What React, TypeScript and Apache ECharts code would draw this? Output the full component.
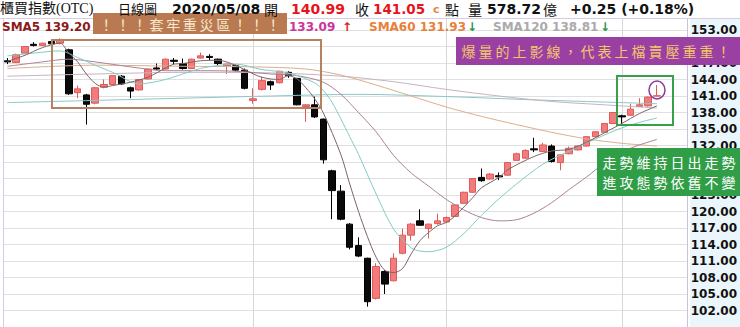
import React, { useEffect, useRef } from 'react';
import * as echarts from 'echarts';

// Trading days shown on the daily chart (OTC index, 2020)
const tradingDays = [
  '2020-01-10', '2020-01-13', '2020-01-14', '2020-01-15', '2020-01-16', '2020-01-17', '2020-01-20',
  '2020-01-30', '2020-01-31',
  '2020-02-03', '2020-02-04', '2020-02-05', '2020-02-06', '2020-02-07', '2020-02-10', '2020-02-11',
  '2020-02-12', '2020-02-13', '2020-02-14', '2020-02-17', '2020-02-18', '2020-02-19', '2020-02-20',
  '2020-02-21', '2020-02-24', '2020-02-25', '2020-02-26', '2020-02-27',
  '2020-03-02', '2020-03-03', '2020-03-04', '2020-03-05', '2020-03-06', '2020-03-09', '2020-03-10',
  '2020-03-11', '2020-03-12', '2020-03-13', '2020-03-16', '2020-03-17', '2020-03-18', '2020-03-19',
  '2020-03-20', '2020-03-23', '2020-03-24', '2020-03-25', '2020-03-26', '2020-03-27', '2020-03-30',
  '2020-03-31',
  '2020-04-01', '2020-04-06', '2020-04-07', '2020-04-08', '2020-04-09', '2020-04-10', '2020-04-13',
  '2020-04-14', '2020-04-15', '2020-04-16', '2020-04-17', '2020-04-20', '2020-04-21', '2020-04-22',
  '2020-04-23', '2020-04-24', '2020-04-27', '2020-04-28', '2020-04-29', '2020-04-30',
  '2020-05-04', '2020-05-05', '2020-05-06', '2020-05-07', '2020-05-08',
];
// empty slots kept on the right of the last session
const padSlots = ['', '', ''];

// [open, close, low, high]
const ohlc: [number, number, number, number][] = [
  [147.4, 147.2, 146.8, 147.9], [147.1, 148.5, 147.0, 148.7], [148.8, 150.0, 148.7, 150.1],
  [150.4, 150.2, 150.0, 150.8], [150.2, 150.6, 150.1, 150.7], [150.9, 150.5, 150.3, 151.2],
  [150.6, 151.2, 150.4, 151.5],
  [149.4, 141.4, 141.2, 149.6], [141.6, 142.3, 140.6, 142.9],
  [141.2, 139.5, 135.8, 141.4], [139.7, 142.5, 139.5, 142.6], [142.6, 143.1, 142.4, 144.0],
  [143.1, 144.7, 143.0, 144.8], [144.6, 143.2, 143.0, 144.8], [142.5, 141.9, 140.6, 142.7],
  [142.1, 144.0, 142.0, 144.1], [144.1, 145.9, 144.0, 146.0], [146.1, 145.9, 145.7, 146.9],
  [145.9, 147.7, 145.8, 147.8], [147.5, 147.3, 146.8, 147.9], [146.9, 146.0, 145.8, 147.8],
  [146.0, 147.7, 145.9, 147.8], [147.9, 148.3, 147.8, 148.9], [148.2, 148.0, 147.5, 148.6],
  [147.7, 146.9, 146.6, 147.8], [146.5, 146.8, 145.0, 146.9], [146.5, 145.7, 145.5, 146.7],
  [145.7, 142.4, 142.2, 146.0],
  [140.2, 140.5, 139.6, 142.4], [142.2, 143.8, 142.0, 144.5], [143.6, 143.0, 142.1, 143.8],
  [143.4, 145.5, 143.3, 145.6], [145.3, 144.7, 144.3, 145.5], [144.2, 139.4, 139.3, 144.3],
  [139.1, 139.4, 136.3, 139.5], [139.4, 137.2, 137.0, 140.9], [136.8, 129.4, 128.7, 136.9],
  [127.4, 123.8, 118.6, 127.6], [123.7, 118.6, 118.4, 124.8], [117.7, 113.5, 113.1, 117.9],
  [113.8, 111.9, 111.7, 115.3], [111.5, 103.6, 102.7, 111.6], [104.2, 110.0, 104.0, 110.6],
  [109.1, 106.8, 105.0, 109.3], [107.4, 111.5, 107.3, 112.4], [112.4, 115.7, 112.2, 116.9],
  [115.7, 117.7, 114.7, 117.9], [118.3, 117.5, 117.4, 120.4], [116.9, 117.7, 115.1, 117.8],
  [117.8, 118.3, 117.6, 119.6],
  [118.1, 118.9, 117.9, 119.1], [119.1, 121.2, 119.0, 121.3], [121.5, 123.5, 121.4, 123.6],
  [123.5, 126.0, 123.4, 126.1], [126.2, 125.6, 125.4, 127.8], [125.9, 126.8, 125.8, 127.0],
  [126.5, 126.3, 125.7, 127.1], [126.6, 128.9, 126.5, 129.0], [129.3, 130.5, 129.2, 130.7],
  [129.7, 131.1, 129.6, 131.3], [131.4, 131.2, 130.8, 133.4], [130.9, 132.1, 130.8, 132.5],
  [131.9, 129.1, 128.9, 132.2], [128.9, 130.3, 127.5, 130.4], [130.5, 131.5, 130.4, 131.8],
  [131.2, 131.9, 131.1, 132.0], [131.9, 133.6, 131.8, 133.7], [133.6, 134.5, 133.5, 134.6],
  [134.4, 136.0, 134.3, 136.1], [136.0, 138.0, 135.9, 138.1],
  [137.4, 137.2, 135.9, 137.6], [137.5, 138.6, 137.4, 139.6], [139.1, 139.4, 139.0, 140.6],
  [139.2, 140.8, 139.1, 140.9], [140.99, 141.05, 140.9, 143.0],
];

// Moving-average curves: [session index, value]
const sma5Points: [number, number][] = [
  [0, 147.3], [2, 148.4], [4, 149.8], [6, 150.6], [7, 148.8], [8, 147.2], [9, 145.0], [10, 143.3],
  [11, 142.6], [12, 142.9], [14, 143.5], [16, 144.4], [17, 145.2], [19, 146.8], [20, 146.9],
  [22, 147.4], [24, 147.5], [26, 146.6], [27, 145.8], [29, 144.4], [31, 144.0], [32, 144.7],
  [33, 144.1], [34, 142.5], [35, 140.5], [36, 137.9], [38, 130.3], [39, 125.0], [40, 120.0],
  [41, 115.5], [42, 111.7], [43, 109.3], [44, 108.9], [45, 109.6], [46, 112.3], [47, 114.7],
  [48, 116.2], [49, 117.4], [50, 118.0], [51, 119.2], [53, 122.5], [54, 124.3], [56, 126.2],
  [57, 127.6], [60, 130.0], [62, 131.0], [64, 131.3], [66, 132.6], [68, 134.3], [70, 136.0],
  [72, 137.8], [74, 139.2],
];
const sma10Points: [number, number][] = [
  [0, 148.3], [3, 148.8], [6, 149.2], [8, 148.0], [10, 146.6], [12, 145.3], [15, 143.2],
  [18, 144.0], [22, 146.0], [26, 146.8], [29, 145.8], [32, 145.2], [35, 143.4], [36, 142.0],
  [37, 139.8], [38, 136.8], [39, 133.6], [40, 130.4], [42, 123.2], [44, 116.8], [46, 113.4],
  [47, 112.8], [48, 112.7], [50, 113.5], [52, 116.0], [54, 119.3], [56, 122.3], [58, 125.0],
  [61, 128.6], [64, 131.0], [67, 133.2], [70, 135.2], [72, 136.2], [74, 137.0],
];
const sma20Points: [number, number][] = [
  [0, 146.4], [4, 147.2], [7, 147.7], [10, 147.2], [14, 146.3], [18, 145.6], [22, 145.6],
  [26, 145.5], [30, 145.0], [33, 144.7], [36, 143.5], [38, 141.3], [40, 138.0], [42, 134.5],
  [44, 130.2], [46, 127.0], [48, 124.6], [50, 122.2], [52, 120.3], [54, 118.9], [56, 118.3],
  [58, 118.5], [60, 119.7], [62, 121.6], [64, 124.0], [66, 126.3], [68, 128.8], [70, 130.8],
  [72, 132.1], [74, 133.1],
];
const sma60Points: [number, number][] = [
  [0, 146.0], [10, 146.6], [20, 146.4], [28, 146.3], [34, 145.9], [38, 144.8], [42, 143.0],
  [46, 141.0], [50, 139.0], [54, 137.3], [58, 135.8], [62, 134.4], [66, 133.2], [70, 132.4],
  [74, 131.9],
];
const sma120Points: [number, number][] = [
  [0, 144.6], [10, 145.0], [20, 145.3], [30, 145.2], [38, 144.6], [44, 143.6], [50, 142.2],
  [56, 141.0], [62, 140.0], [68, 139.4], [74, 138.8],
];
const sma240Points: [number, number][] = [
  [0, 139.8], [15, 140.4], [30, 141.0], [40, 141.3], [50, 140.9], [60, 140.3], [68, 139.9],
  [74, 139.6],
];

// First session of each month, marked with a vertical rule
const monthStarts = ['2020-03-02', '2020-04-01', '2020-05-04'];

// Price labels that sit fully under the note boxes
const hiddenPriceLabels = [150, 129, 126];

// Quote header
const quoteName = '櫃買指數(OTC)';
const chartKind = '日線圖';
const quoteDate = '2020/05/08';
const openText = '140.99';
const closeText = '141.05';
const volumeText = '578.72';
const changeText = '+0.25 (+0.18%)';
const sma5Label = 'SMA5 139.20';
const sma20Value = '133.09';
const sma60Label = 'SMA60 131.93';
const sma120Label = 'SMA120 138.81';

// Notes drawn on the chart
const noteTrap = '！！！套牢重災區！！！';
const noteShadow = '爆量的上影線，代表上檔賣壓重重！';
const noteTrend1 = '走勢維持日出走勢';
const noteTrend2 = '進攻態勢依舊不變';

const SANS = '"DejaVu Sans"';
const CJK = '"Noto Sans CJK TC"';

function textEl(text: string, x: number, y: number, font: string, fill: string, z = 20, align = 'left') {
  return {
    type: 'text',
    x,
    y,
    z,
    silent: true,
    style: { text, font, fill, textAlign: align, textVerticalAlign: 'middle', align, verticalAlign: 'middle' },
  };
}

// lays CJK text out one glyph per fixed step
function spacedRow(text: string, x0: number, y: number, step: number, font: string, fill: string, z: number) {
  return Array.from(text).map((ch, i) => textEl(ch, x0 + i * step + step / 2, y, font, fill, z, 'center'));
}

function maSeries(name: string, points: [number, number][], color: string) {
  return {
    name,
    type: 'line',
    data: points,
    showSymbol: false,
    smooth: 0.3,
    silent: true,
    z: 3,
    lineStyle: { color, width: 1 },
  };
}

function buildOption() {
  const row1 = 8.5;
  const row2 = 26.5;
  const graphic: any[] = [
    // axis column and header band
    { type: 'rect', z: 0, silent: true, shape: { x: 690, y: 18, width: 50, height: 309 }, style: { fill: '#ebf5fc' } },
    { type: 'rect', z: 8, silent: true, shape: { x: 0, y: 0, width: 740, height: 18 }, style: { fill: '#ffffff' } },
    { type: 'line', z: 9, silent: true, shape: { x1: 0, y1: 18.5, x2: 740, y2: 18.5 }, style: { stroke: '#d7cbe5', lineWidth: 1 } },
    { type: 'line', z: 9, silent: true, shape: { x1: 3.5, y1: 18, x2: 3.5, y2: 327 }, style: { stroke: '#d7cbe5', lineWidth: 1 } },

    textEl(quoteName, 0, row1, `14px "Liberation Serif", ${CJK}`, '#111'),
    textEl(chartKind, 118, row1, `13px ${CJK}`, '#111'),
    textEl(quoteDate, 172, row1, `bold 14px ${SANS}`, '#111'),
    textEl('開', 264, row1, `14px ${CJK}`, '#111'),
    textEl(openText, 291, row1, `bold 14px ${SANS}`, '#e8141c'),
    textEl('收', 355, row1, `14px ${CJK}`, '#111'),
    textEl(closeText, 373, row1, `bold 13.5px ${SANS}`, '#e8141c'),
    textEl('c', 433, row1 + 1, `bold 11px ${SANS}`, '#e8874a'),
    textEl('點', 445, row1, `14px ${CJK}`, '#111'),
    textEl('量', 468, row1, `14px ${CJK}`, '#111'),
    textEl(volumeText, 487, row1, `bold 14px ${SANS}`, '#111'),
    textEl('億', 543, row1, `14px ${CJK}`, '#111'),
    textEl(changeText, 570, row1, `bold 14px ${SANS}`, '#111'),

    textEl(sma5Label, 2, row2, `bold 12px ${SANS}`, '#8b1a1a', 12),
    textEl(sma20Value, 289, row2, `bold 12px ${SANS}`, '#cc3399', 12),
    textEl('↑', 342, row2, `bold 12px ${SANS}`, '#e02020', 12),
    textEl(sma60Label, 369, row2, `bold 12px ${SANS}`, '#e8803c', 12),
    textEl('↓', 467, row2, `bold 12px ${SANS}`, '#1f9a3f', 12),
    textEl(sma120Label, 493, row2, `bold 12px ${SANS}`, '#aaaaaa', 12),
    textEl('↓', 600, row2, `bold 12px ${SANS}`, '#1f9a3f', 12),

    // trapped-zone banner and frame
    { type: 'rect', z: 15, silent: true, shape: { x: 93, y: 13, width: 194, height: 21 }, style: { fill: '#b97a52' } },
    ...spacedRow(noteTrap, 98, 23.5, 16.7, `14px ${CJK}`, '#f7e8cf', 16),
    { type: 'rect', z: 15, silent: true, shape: { x: 52, y: 40, width: 269, height: 68 }, style: { fill: 'none', stroke: '#b5825f', lineWidth: 2 } },

    // upper-shadow note
    { type: 'rect', z: 15, silent: true, shape: { x: 456, y: 37, width: 284, height: 28 }, style: { fill: '#9b40a3' } },
    ...spacedRow(noteShadow, 460, 51, 17, `14px ${CJK}`, '#f3c56b', 16),
    { type: 'rect', z: 15, silent: true, shape: { x: 617, y: 76, width: 56, height: 49 }, style: { fill: 'none', stroke: '#36a04a', lineWidth: 2 } },
    { type: 'ellipse', z: 15, silent: true, shape: { cx: 657, cy: 90, rx: 8, ry: 9 }, style: { fill: 'none', stroke: '#8e3a9c', lineWidth: 1.5 } },

    // trend note
    { type: 'rect', z: 15, silent: true, shape: { x: 597, y: 148, width: 143, height: 48 }, style: { fill: '#2f9e46' } },
    ...spacedRow(noteTrend1, 601, 161.5, 17, `14px ${CJK}`, '#ffffff', 16),
    ...spacedRow(noteTrend2, 601, 182, 17, `14px ${CJK}`, '#ffffff', 16),
  ];

  return {
    animation: false,
    backgroundColor: '#ffffff',
    grid: { left: 3, right: 50, top: 13.5, bottom: 0, containLabel: false },
    xAxis: {
      type: 'category',
      data: [...tradingDays, ...padSlots],
      boundaryGap: true,
      axisLine: { show: false },
      axisTick: { show: false },
      axisLabel: { show: false },
      splitLine: { show: false },
    },
    yAxis: {
      type: 'value',
      position: 'right',
      min: 99,
      max: 156,
      interval: 3,
      axisLine: { show: true, lineStyle: { color: '#cdbfe2' } },
      axisTick: { show: false },
      axisLabel: {
        margin: 3,
        color: '#111',
        fontWeight: 'bold',
        fontSize: 12,
        fontFamily: 'DejaVu Sans',
        formatter: (v: number) =>
          v <= 99 || v >= 156 || hiddenPriceLabels.includes(Math.round(v)) ? '' : v.toFixed(2),
      },
      splitLine: { show: true, lineStyle: { color: '#e0e0e0', width: 1 } },
    },
    series: [
      {
        name: 'OTC',
        type: 'candlestick',
        data: ohlc,
        barWidth: 7,
        silent: true,
        itemStyle: {
          color: '#f27b7b',
          borderColor: '#e05a5a',
          color0: '#0a0a0a',
          borderColor0: '#000000',
          borderWidth: 1,
        },
        markLine: {
          silent: true,
          z: 1,
          symbol: ['none', 'none'],
          label: { show: false },
          lineStyle: { color: '#d6d6de', width: 1, type: 'solid' },
          data: monthStarts.map((d) => ({ xAxis: d })),
        },
      },
      maSeries('SMA240', sma240Points, '#8cc6c6'),
      maSeries('SMA120', sma120Points, '#c6b3bf'),
      maSeries('SMA60', sma60Points, '#dbae8c'),
      maSeries('SMA20', sma20Points, '#ad8099'),
      maSeries('SMA10', sma10Points, '#7fcdc4'),
      maSeries('SMA5', sma5Points, '#7a6666'),
    ],
    graphic,
  };
}

export default function App() {
  const ref = useRef<HTMLDivElement>(null);
  useEffect(() => {
    if (!ref.current) return;
    const chart = echarts.init(ref.current, undefined, { renderer: 'svg' });
    chart.setOption(buildOption() as any);
    return () => chart.dispose();
  }, []);
  return (
    <div
      ref={ref}
      style={{ position: 'fixed', left: 0, top: 0, width: 740, height: 327, background: '#fff' }}
    />
  );
}
